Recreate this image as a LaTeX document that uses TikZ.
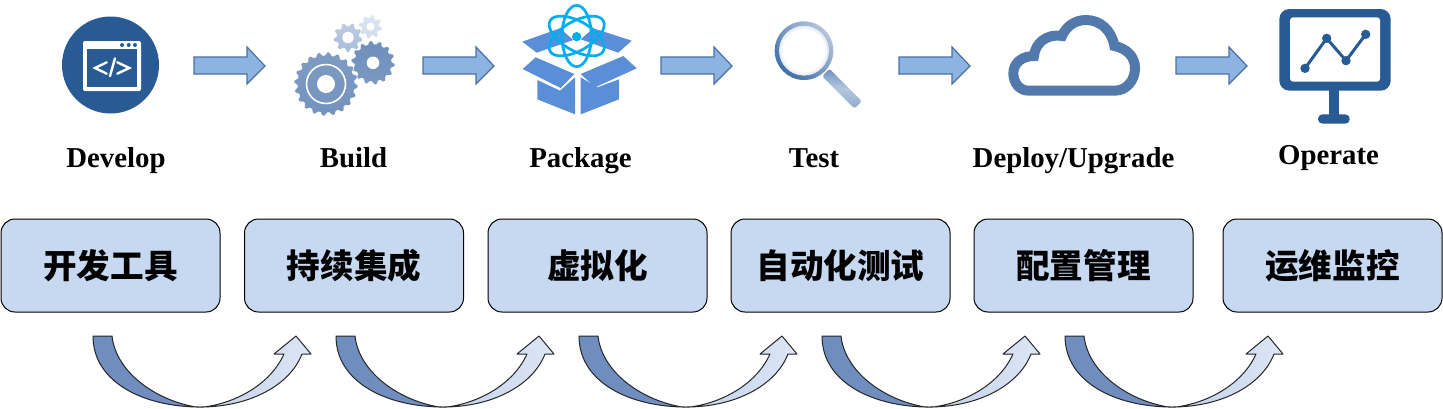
\documentclass[tikz,border=0pt]{standalone}
\usepackage{fontspec}
\setmainfont{Liberation Serif}
\newfontfamily\cjk{Noto Sans CJK SC}
\definecolor{boxfill}{HTML}{C6D9F1}
\definecolor{navy}{HTML}{285A94}
\definecolor{arrowfill}{HTML}{8DB3E2}
\definecolor{arrowline}{HTML}{4A70A0}
\definecolor{pkg}{HTML}{5A8FD8}
\definecolor{atom}{HTML}{00AEEF}
\definecolor{cloudc}{HTML}{5279AB}
\definecolor{darkcurve}{HTML}{6F8DBE}
\definecolor{midcurve}{HTML}{C4D2EA}
\definecolor{lightcurve}{HTML}{DCE6F6}
\definecolor{gearAt}{HTML}{DCE5F1}
\definecolor{gearAb}{HTML}{D0DCEC}
\definecolor{gearBt}{HTML}{BCCCE1}
\definecolor{gearBb}{HTML}{A8BDD8}
\definecolor{gearCt}{HTML}{6D8FBB}
\definecolor{gearCb}{HTML}{7A99C2}
\definecolor{gearDt}{HTML}{7E9BC2}
\definecolor{gearDb}{HTML}{7393BE}
\definecolor{ringa}{HTML}{B4C4DC}
\definecolor{ringb}{HTML}{3F6FA8}
\definecolor{handlea}{HTML}{6E91BE}
\definecolor{handleb}{HTML}{B5C7DE}
\definecolor{handlec}{HTML}{8FAACC}
\pgfdeclarehorizontalshading{curveshade}{100bp}{
  color(0bp)=(darkcurve); color(50bp)=(darkcurve);
  color(52bp)=(midcurve); color(75bp)=(lightcurve); color(100bp)=(lightcurve)}
\tikzset{
  stagebox/.style={draw=black,line width=0.5pt,fill=boxfill,rounded corners=7pt,minimum width=109.5pt,minimum height=46.5pt,inner sep=0pt,font=\cjk\bfseries\fontsize{16.8}{20}\selectfont},
  stagelabel/.style={anchor=base,inner sep=0pt,font=\bfseries\fontsize{14.4}{17}\selectfont},
  flowarrow/.style={draw=arrowline,line width=0.6pt,fill=arrowfill,line join=miter},
  curvearrow/.style={draw=black!85,line width=0.5pt,shading=curveshade,line join=round},
  zoomed/.style={scale=1/3}
}
% centre x, y, mean radius, tooth height, teeth, hole radius, top colour, bottom colour
\newcommand{\gearicon}[8]{%
  \path[draw=white,line width=0.3pt,top color=#7,bottom color=#8]
    plot[domain=0:360,samples=#5*16+1,variable=\t,smooth]
    ({#1+(#3+#4*max(-1,min(1,1.3*sin(#5*\t))))*cos(\t)},{#2+(#3+#4*max(-1,min(1,1.3*sin(#5*\t))))*sin(\t)})--cycle;
  \fill[white] (#1,#2) circle (#6);
}
\begin{document}
\begin{tikzpicture}[x=0.5pt,y=-0.5pt]
\useasboundingbox (0,0) rectangle (1443,408);

% ---- block arrows
\foreach \ax in {194,423,661,899,1176}{
  \draw[flowarrow] (\ax,57) -- ++(53,0) -- ++(0,-10) -- ++(18,19) -- ++(-18,18) -- ++(0,-10) -- ++(-53,0) -- cycle;
}

% ---- Develop icon
\fill[navy] (110.5,65) circle (48.5);
\fill[white,rounded corners=1pt] (83,41) rectangle (141,91);
\fill[navy] (87,49) rectangle (137,87);
\foreach \dx in {122,128.7,135}{\fill[navy] (\dx,45) circle (2);}
\draw[white,line width=1.2pt,line cap=round,line join=miter] (106.7,62.3) -- (95,68) -- (106.7,73.7);
\draw[white,line width=1.2pt,line cap=round] (115,58.3) -- (110,76);
\draw[white,line width=1.2pt,line cap=round,line join=miter] (117.3,62.3) -- (129.3,68) -- (117.3,73.7);

% ---- Build icon
\gearicon{370.5}{26.7}{10.5}{1.5}{8}{4}{gearAt}{gearAb}
\gearicon{348}{37.5}{13.2}{1.6}{9}{5.7}{gearBt}{gearBb}
\gearicon{373}{62.8}{20.4}{1.6}{14}{6.3}{gearCt}{gearCb}
\gearicon{326}{84}{30.4}{1.6}{20}{9}{gearDt}{gearDb}
\draw[white,line width=0.8pt] (326,84) circle (19.5);

% ---- Package icon
\begin{scope}[shift={(515,0)},zoomed]
  \fill[pkg] (22,125) -- (135,85) -- (175,120) -- (65,158) -- cycle;
  \fill[pkg] (235,85) -- (350,122) -- (310,158) -- (197,118) -- cycle;
  \fill[pkg] (62,172) -- (178,222) -- (137,264) -- (23,207) -- cycle;
  \fill[pkg] (325,168) -- (365,205) -- (240,262) -- (197,222) -- cycle;
  \fill[pkg] (67,240) -- (135,272) -- (180,232) -- (180,343) -- (67,298) -- cycle;
  \fill[pkg] (197,232) -- (247,262) -- (312,238) -- (312,298) -- (197,343) -- cycle;
  \foreach \r in {0,60,-60}{
    \draw[atom,line width=1.35pt,rotate around={\r:(185,108)}] (185,108) ellipse (44 and 92);
  }
  \fill[atom] (185,110) circle (14);
\end{scope}

% ---- Test icon
\begin{scope}[shift={(500,0)},zoomed]
  \path[even odd rule,left color=ringa,right color=ringb,shading angle=-45]
     (912,152) circle (88) (912,152) circle (74);
  \draw[ringa!35,line width=0.9pt] (912,152) circle (72);
  \draw[ringa!15,line width=0.9pt] (912,152) circle (67);
  \node[rotate=-45,minimum width=22.9pt,minimum height=5.2pt,inner sep=0pt,rounded corners=0.8pt,
        top color=handlea,bottom color=handlec,middle color=handleb] (handle) at (1026,266) {};
\end{scope}

% ---- Deploy icon
\begin{scope}[shift={(960,0)},zoomed]
  \draw[cloudc,line width=5pt,line join=miter]
    (205,272) -- (465,272) .. controls (500,272) and (525,240) .. (525,205)
    .. controls (525,170) and (500,145) .. (463,138)
    .. controls (455,90) and (420,60) .. (378,60)
    .. controls (340,60) and (315,85) .. (306,108)
    .. controls (260,100) and (225,130) .. (222,168)
    .. controls (185,168) and (160,190) .. (160,220)
    .. controls (160,250) and (180,272) .. (205,272) -- cycle;
\end{scope}

% ---- Operate icon
\begin{scope}[shift={(960,0)},zoomed]
  \fill[navy] (1108,265) rectangle (1137,350);
  \fill[navy,rounded corners=2.2pt] (1074,343) rectangle (1169,371);
  \fill[navy,rounded corners=5pt] (958,27) rectangle (1292,272);
  \fill[white,rounded corners=1.5pt] (990,52) rectangle (1260,245);
  \draw[navy,line width=1.5pt,line join=round] (1035,205) -- (1100,115) -- (1158,182) -- (1217,103);
  \foreach \px/\py in {1035/205,1100/115,1158/182,1217/103}{\fill[navy] (\px,\py) circle (14);}
\end{scope}

% ---- stage labels
\node[stagelabel] (ldev) at (116,167) {Develop};
\node[stagelabel] (lbld) at (353.5,167) {Build};
\node[stagelabel] (lpkg) at (580.5,167) {Package};
\node[stagelabel] (ltst) at (814,167) {Test};
\node[stagelabel] (ldep) at (1073.5,167) {Deploy/Upgrade};
\node[stagelabel] (lopr) at (1328.5,164) {Operate};

% ---- tool boxes
\node[stagebox] (b1) at (110.5,265.5) {开发工具};
\node[stagebox] (b2) at (354,265.5) {持续集成};
\node[stagebox] (b3) at (597.5,265.5) {虚拟化};
\node[stagebox] (b4) at (840.5,265.5) {自动化测试};
\node[stagebox] (b5) at (1083.5,265.5) {配置管理};
\node[stagebox] (b6) at (1332.5,265.5) {运维监控};

% ---- curved arrows
\foreach \cx in {0,243,486,729,972}{
  \begin{scope}[shift={(\cx,0)}]
  \path[curvearrow]
    (93,336) .. controls (93,383) and (145,407) .. (200,407)
    .. controls (250,407) and (290,385) .. (302,354)
    -- (311,354) -- (296,336) -- (274,354) -- (284,354)
    .. controls (270,385) and (235,403) .. (204,407)
    -- (196,407)
    .. controls (155,400) and (116,372) .. (112,336) -- cycle;
  \end{scope}
}
\end{tikzpicture}
\end{document}
